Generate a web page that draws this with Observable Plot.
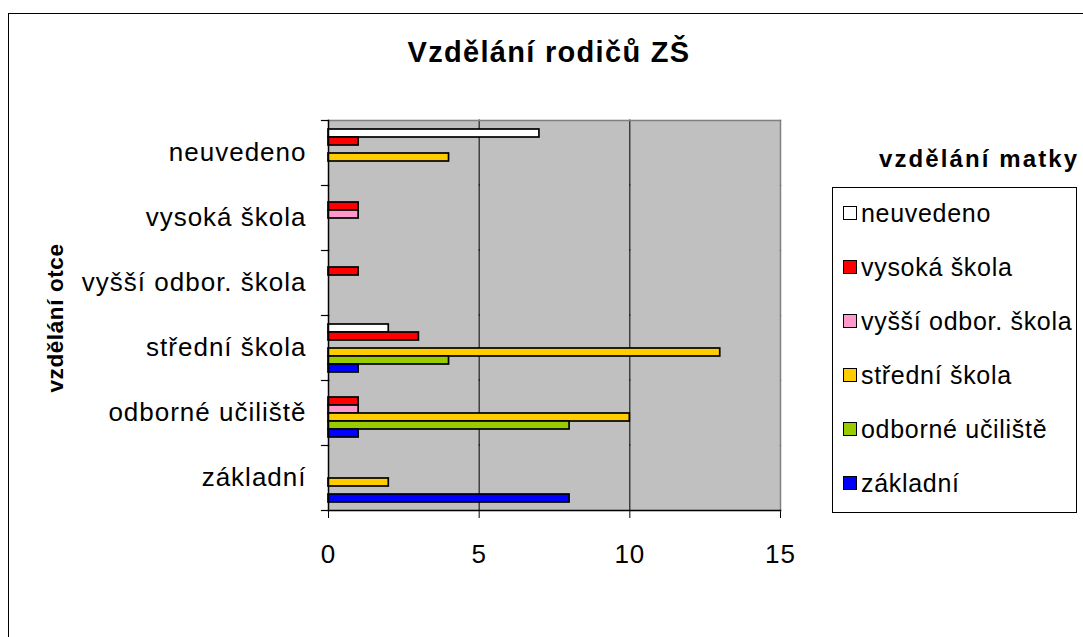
<!DOCTYPE html>
<html>
<head>
<meta charset="utf-8">
<script src="https://cdn.jsdelivr.net/npm/d3@7"></script>
<script src="https://cdn.jsdelivr.net/npm/@observablehq/plot@0.6"></script>
<style>
  body { margin: 0; background: #fff; font-family: "Liberation Sans", Arial, sans-serif; }
  #wrap { position: relative; width: 1083px; height: 637px; overflow: hidden; background: #fff; }
  #outer { position: absolute; left: 8px; top: 13px; width: 1200px; height: 800px; border: 1.5px solid #000; box-sizing: border-box; }
  #chart { position: absolute; left: 0; top: 0; }
  #chart svg text { letter-spacing: 1px; }
  .title { position: absolute; white-space: nowrap; font-weight: bold; color: #000; line-height: 1; }
  #title { left: 549px; top: 38px; font-size: 29px; letter-spacing: 1.3px; transform: translateX(-50%); }
  #ytitle { left: 56px; top: 318px; font-size: 22.5px; letter-spacing: 0.6px; transform: translate(-50%, -50%) rotate(-90deg); }
  #ltitle { left: 879px; top: 147px; font-size: 24px; letter-spacing: 2.1px; }
  #legend { position: absolute; left: 832px; top: 187px; width: 245px; height: 326px; border: 1px solid #000; box-sizing: border-box; }
  .item { position: absolute; left: 843px; height: 30px; display: flex; align-items: center; white-space: nowrap; font-size: 25px; letter-spacing: 0.7px; color: #000; }
  .sw { width: 12px; height: 12px; border: 1.2px solid #000; margin-right: 4px; flex: none; }
</style>
</head>
<body>
<div id="wrap">
  <div id="outer"></div>
  <div id="legend"></div>
  <div id="chart"></div>
  <div class="title" id="title"></div>
  <div class="title" id="ytitle"></div>
  <div class="title" id="ltitle"></div>
</div>
<script>
// ---- data ----
const chartTitle = "Vzdělání rodičů ZŠ";
const yTitle = "vzdělání otce";
const legendTitle = "vzdělání matky";

// father's education (groups, top to bottom)
const fatherCats = ["neuvedeno", "vysoká škola", "vyšší odbor. škola", "střední škola", "odborné učiliště", "základní"];
// mother's education (series, top to bottom inside each group)
const motherCats = ["neuvedeno", "vysoká škola", "vyšší odbor. škola", "střední škola", "odborné učiliště", "základní"];
const motherColors = ["#ffffff", "#ff0000", "#ff99cc", "#ffcc00", "#99cc00", "#0000ff"];

// values per mother series, in fatherCats order
const mNeuvedeno = [7, 0, 0, 2, 0, 0];
const mVysoka    = [1, 1, 1, 3, 1, 0];
const mVyssi     = [0, 1, 0, 0, 1, 0];
const mStredni   = [4, 0, 0, 13, 10, 2];
const mOdborne   = [0, 0, 0, 4, 8, 0];
const mZakladni  = [0, 0, 0, 1, 1, 8];

const xTicks = [0, 5, 10, 15];
const gridValues = [5, 10];

const seriesValues = [mNeuvedeno, mVysoka, mVyssi, mStredni, mOdborne, mZakladni];
const rows = [];
motherCats.forEach((m, j) => {
  seriesValues[j].forEach((v, i) => {
    if (v > 0) rows.push({father: fatherCats[i], mother: m, value: v});
  });
});

// ---- chart ----
const M = {marginLeft: 328, marginRight: 303, marginTop: 118, marginBottom: 126};
const plotW = 1083 - M.marginLeft - M.marginRight;

const chart = Plot.plot({
  width: 1083,
  height: 637,
  ...M,
  style: {background: "transparent", fontFamily: '"Liberation Sans", Arial, sans-serif', fontSize: "26px", color: "#000", overflow: "visible"},
  facet: {data: rows, y: "father", ...M},
  fy: {domain: fatherCats, padding: 0, axis: "left", tickSize: 0, tickPadding: 22, label: null},
  y: {domain: motherCats, paddingInner: 0, paddingOuter: 0.667, axis: null},
  x: {domain: [0, 15], ticks: xTicks, tickSize: 8, tickPadding: 26, label: null, tickFormat: d => String(d)},
  color: {domain: motherCats, range: motherColors},
  marks: [
    Plot.frame({fill: "#c0c0c0", stroke: null, insetTop: -0.6, insetBottom: -0.6}),
    Plot.ruleX(gridValues, {stroke: "#000", strokeWidth: 1, insetTop: -0.6, insetBottom: -0.6}),
    Plot.frame({anchor: "top", stroke: "#808080", strokeWidth: 1.5, facetAnchor: "top"}),
    Plot.frame({anchor: "right", stroke: "#808080", strokeWidth: 1.5}),
    Plot.barX(rows, {x: "value", y: "mother", fill: "mother", stroke: "#000", strokeWidth: 1.7}),
    Plot.frame({anchor: "left", stroke: "#000", strokeWidth: 1.5}),
    Plot.frame({anchor: "bottom", stroke: "#000", strokeWidth: 1.5, facetAnchor: "bottom"}),
    Plot.frame({anchor: "top", stroke: "#000", strokeWidth: 1.2, insetLeft: -7, insetRight: plotW}),
    Plot.frame({anchor: "bottom", stroke: "#000", strokeWidth: 1.2, insetLeft: -7, insetRight: plotW, facetAnchor: "bottom"})
  ]
});
document.getElementById("chart").appendChild(chart);

document.getElementById("title").textContent = chartTitle;
document.getElementById("ytitle").textContent = yTitle;
document.getElementById("ltitle").textContent = legendTitle;

// legend entries
const wrap = document.getElementById("wrap");
const legendCenters0 = 213, legendStep = 54;
motherCats.forEach((m, j) => {
  const it = document.createElement("div");
  it.className = "item";
  it.style.top = (legendCenters0 + j * legendStep - 15) + "px";
  const sw = document.createElement("span");
  sw.className = "sw";
  sw.style.background = motherColors[j];
  const tx = document.createElement("span");
  tx.textContent = m;
  it.appendChild(sw);
  it.appendChild(tx);
  wrap.appendChild(it);
});
</script>
</body>
</html>
